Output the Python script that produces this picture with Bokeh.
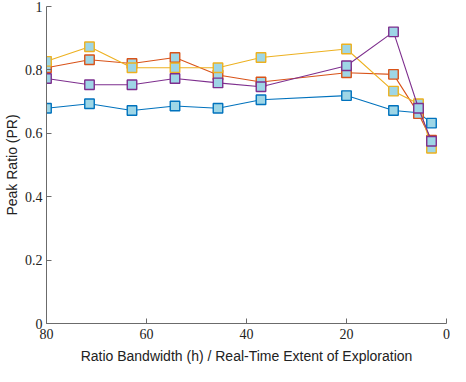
from bokeh.plotting import figure
from bokeh.models import Range1d, FixedTicker, CustomJSTickFormatter
from bokeh.embed import file_html
from bokeh.resources import INLINE

x = [80, 71.4, 62.9, 54.3, 45.7, 37.1, 20, 10.6, 5.6, 3.0]
blue = [0.679, 0.693, 0.672, 0.686, 0.679, 0.706, 0.719, 0.672, 0.665, 0.632]
orange = [0.807, 0.832, 0.820, 0.839, 0.784, 0.762, 0.791, 0.786, 0.662, 0.578]
yellow = [0.827, 0.873, 0.807, 0.807, 0.807, 0.839, 0.866, 0.733, 0.693, 0.553]
purple = [0.773, 0.753, 0.753, 0.773, 0.759, 0.747, 0.813, 0.920, 0.679, 0.575]
series = [blue, orange, yellow, purple]
colors = ["#0072BD", "#D95319", "#EDB120", "#7E2F8E"]
face = "#9ED6E6"
xticks = [80, 60, 40, 20, 0]
yticks = [0, 0.2, 0.4, 0.6, 0.8, 1.0]

p = figure(width=450, height=366, output_backend="svg", toolbar_location=None,
           x_range=Range1d(80, 0), y_range=Range1d(0, 1),
           min_border_left=0, min_border_right=4, min_border_top=6, min_border_bottom=0)
p.outline_line_color = None
p.grid.visible = False
p.background_fill_color = "white"
p.border_fill_color = "white"

for ys, c in zip(series, colors):
    p.line(x, ys, line_color=c, line_width=1.1)
    p.scatter(x, ys, marker="square", size=9.5, fill_color=face, line_color=c, line_width=1.4)

for ax in (p.xaxis[0], p.yaxis[0]):
    ax.axis_line_color = "#6b6b6b"
    ax.major_tick_line_color = "#6b6b6b"
    ax.major_tick_in = 5
    ax.major_tick_out = 0
    ax.minor_tick_line_color = None
    ax.major_label_text_font = "Liberation Serif"
    ax.major_label_text_font_size = "14px"
    ax.major_label_text_color = "#222222"
    ax.axis_label_text_font = "Liberation Sans"
    ax.axis_label_text_font_size = "14px"
    ax.axis_label_text_font_style = "normal"
    ax.axis_label_text_color = "#222222"

p.xaxis.ticker = FixedTicker(ticks=xticks)
p.yaxis.ticker = FixedTicker(ticks=yticks)
p.yaxis.formatter = CustomJSTickFormatter(code="return String(Math.round(tick*10)/10);")
p.xaxis.major_label_standoff = 5
p.yaxis.major_label_standoff = 4
p.xaxis.axis_label = "Ratio Bandwidth (h) / Real-Time Extent of Exploration"
p.yaxis.axis_label = "Peak Ratio (PR)"
p.xaxis.axis_label_standoff = 6
p.yaxis.axis_label_standoff = 2

open("out.html", "w").write(file_html(p, INLINE))
